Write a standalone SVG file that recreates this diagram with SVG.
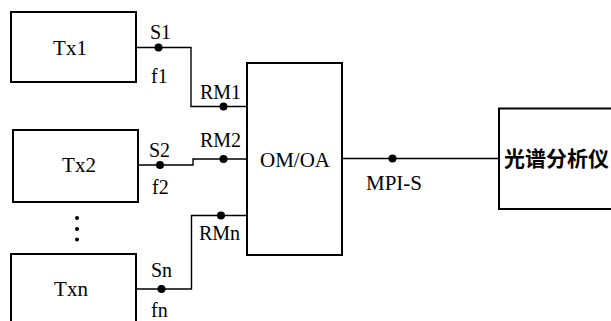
<svg xmlns="http://www.w3.org/2000/svg" width="611" height="321" viewBox="0 0 611 321">
<style>
.box{fill:#fff;stroke:#000;stroke-width:2}
.ln{fill:none;stroke:#000;stroke-width:1.4}
.dot{fill:#000}
.t{font-family:"Liberation Serif","Times New Roman",serif;font-size:21px;fill:#000}
.p{font-family:"Liberation Serif","Times New Roman",serif;font-size:20px;fill:#000}
.c{font-family:"Liberation Serif","Noto Sans CJK SC",sans-serif;font-size:21px;font-weight:bold;fill:#000}
</style>
<rect width="611" height="321" fill="#fff"/>
<g id="connectors">
<polyline class="ln" points="136,47.5 191,47.5 191,106.5 247,106.5"/>
<polyline class="ln" points="138,165 193,165 193,159 247,159"/>
<polyline class="ln" points="137,289 191.5,289 191.5,215.5 247,215.5"/>
<line class="ln" x1="342" y1="158.5" x2="499" y2="158.5"/>
<circle class="dot" cx="158.5" cy="47.5" r="4"/>
<circle class="dot" cx="223.5" cy="106.5" r="4"/>
<circle class="dot" cx="160" cy="165" r="4"/>
<circle class="dot" cx="223.5" cy="159" r="4"/>
<circle class="dot" cx="161.5" cy="289" r="4"/>
<circle class="dot" cx="221" cy="215.5" r="4"/>
<circle class="dot" cx="392.5" cy="158.5" r="4"/>
<text class="p" x="150" y="39">S1</text>
<text class="p" x="151" y="83">f1</text>
<text class="p" x="200" y="99">RM1</text>
<text class="p" x="149" y="157">S2</text>
<text class="p" x="152" y="194">f2</text>
<text class="p" x="200" y="147">RM2</text>
<text class="p" x="199" y="240">RMn</text>
<text class="p" x="151" y="277">Sn</text>
<text class="p" x="151" y="317">fn</text>
<text class="t" x="366" y="190">MPI-S</text>
</g>
<g id="tx1">
<rect class="box" x="11" y="12" width="125" height="70"/>
<text class="t" x="70" y="55" text-anchor="middle">Tx1</text>
</g>
<g id="tx2">
<rect class="box" x="13" y="130" width="125" height="72"/>
<text class="t" x="79" y="172" text-anchor="middle">Tx2</text>
</g>
<g id="ellipsis">
<circle class="dot" cx="77" cy="218" r="2"/>
<circle class="dot" cx="77" cy="229" r="2"/>
<circle class="dot" cx="77" cy="239.5" r="2"/>
</g>
<g id="txn">
<rect class="box" x="11" y="254" width="125" height="80"/>
<text class="t" x="71" y="296" text-anchor="middle">Txn</text>
</g>
<g id="omoa">
<rect class="box" x="247" y="63" width="95" height="192"/>
<text class="t" x="295" y="167" text-anchor="middle">OM/OA</text>
</g>
<g id="osa">
<rect class="box" x="499" y="108.5" width="130" height="100.5"/>
<text class="c" x="504" y="166">光谱分析仪</text>
</g>
</svg>
